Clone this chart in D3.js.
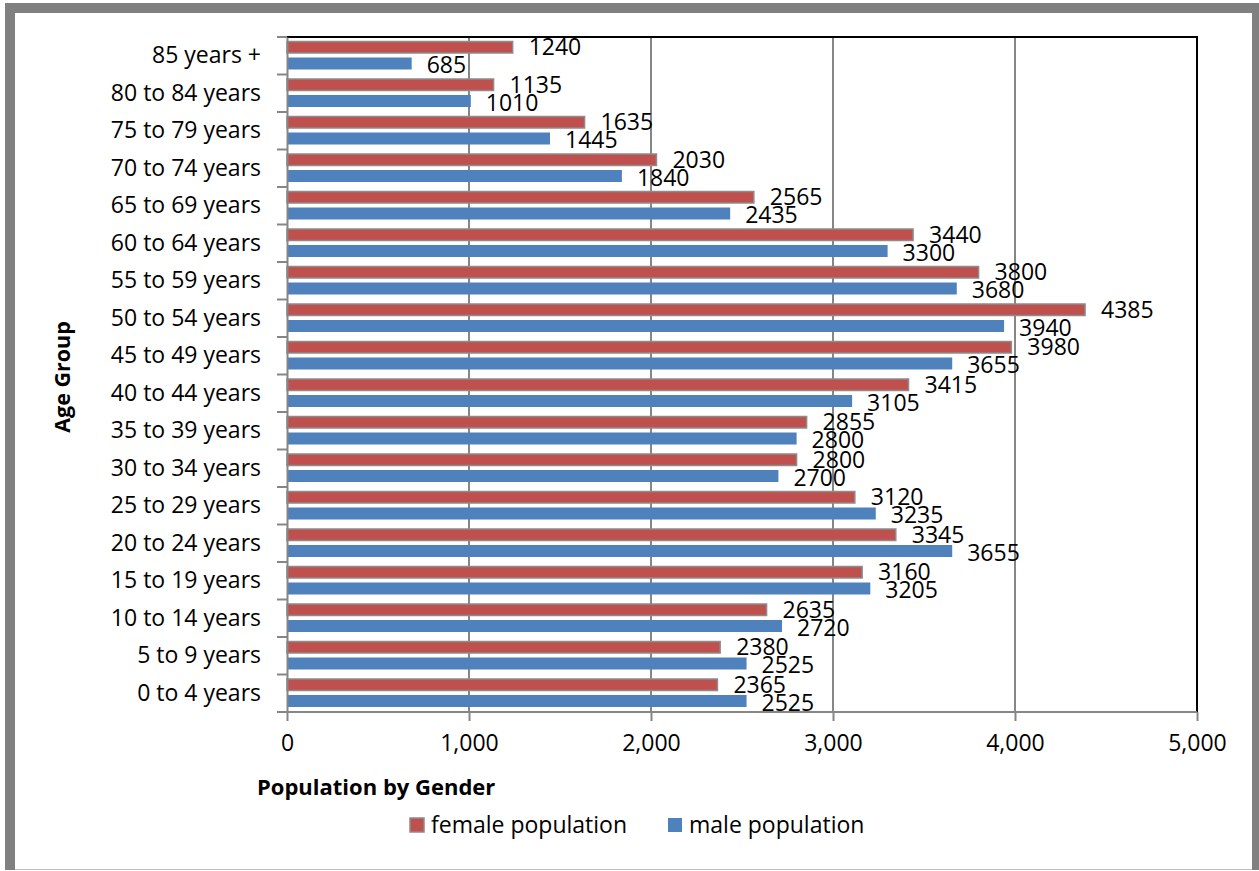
<!DOCTYPE html>
<html>
<head>
<meta charset="utf-8">
<script src="https://cdn.jsdelivr.net/npm/d3@7"></script>
<style>
  html, body { margin: 0; padding: 0; background: #fff; }
  svg { display: block; }
  text { font-family: "Open Sans", "Noto Sans", sans-serif; fill: #000; }
</style>
</head>
<body>
<script>
const categories = ["85 years +", "80 to 84 years", "75 to 79 years", "70 to 74 years", "65 to 69 years",
  "60 to 64 years", "55 to 59 years", "50 to 54 years", "45 to 49 years", "40 to 44 years",
  "35 to 39 years", "30 to 34 years", "25 to 29 years", "20 to 24 years", "15 to 19 years",
  "10 to 14 years", "5 to 9 years", "0 to 4 years"];
const femaleValues = [1240, 1135, 1635, 2030, 2565, 3440, 3800, 4385, 3980, 3415, 2855, 2800, 3120, 3345, 3160, 2635, 2380, 2365];
const maleValues = [685, 1010, 1445, 1840, 2435, 3300, 3680, 3940, 3655, 3105, 2800, 2700, 3235, 3655, 3205, 2720, 2525, 2525];
const xTicks = [0, 1000, 2000, 3000, 4000, 5000];
const seriesNames = ["female population", "male population"];
const seriesColors = ["#C0504D", "#4F81BD"];

const W = 1259, H = 871;
const FS = 23;
const svg = d3.select("body").append("svg").attr("width", W).attr("height", H);

// outer frame
svg.append("rect").attr("x", 0).attr("y", 0).attr("width", W).attr("height", H).attr("fill", "#fff");
svg.append("rect").attr("x", 5).attr("y", 3).attr("width", 1254).attr("height", 867).attr("fill", "#808080");
svg.append("rect").attr("x", 15).attr("y", 13).attr("width", 1237).attr("height", 856).attr("fill", "#fff");
svg.append("line").attr("x1", 15).attr("x2", 1252).attr("y1", 869.5).attr("y2", 869.5).attr("stroke", "#c0c0c0").attr("stroke-width", 1);

const x = d3.scaleLinear().domain([0, 5000]).range([287, 1197]);
const y = d3.scaleBand().domain(categories).range([37, 712]).padding(0);

// gridlines
svg.append("g").selectAll("line").data(xTicks.slice(1, -1)).join("line")
  .attr("x1", d => x(d)).attr("x2", d => x(d)).attr("y1", 37).attr("y2", 712)
  .attr("stroke", "#868686").attr("stroke-width", 2);

// top & right black border
svg.append("line").attr("x1", 287).attr("x2", 1198).attr("y1", 37).attr("y2", 37).attr("stroke", "#000").attr("stroke-width", 2);
svg.append("line").attr("x1", 1197).attr("x2", 1197).attr("y1", 37).attr("y2", 712).attr("stroke", "#000").attr("stroke-width", 2);

// bars
const rows = categories.map((c, i) => ({c, f: femaleValues[i], m: maleValues[i]}));
const g = svg.append("g");
g.selectAll("rect.f").data(rows).join("rect").attr("class", "f")
  .attr("x", x(0)).attr("y", d => y(d.c) + 4.5)
  .attr("width", d => x(d.f) - x(0)).attr("height", 11.5)
  .attr("fill", seriesColors[0]).attr("stroke", "#8c8c8c").attr("stroke-width", 1.5);
g.selectAll("rect.m").data(rows).join("rect").attr("class", "m")
  .attr("x", x(0)).attr("y", d => y(d.c) + 20.5)
  .attr("width", d => x(d.m) - x(0)).attr("height", 12)
  .attr("fill", seriesColors[1]);

// value labels
g.selectAll("text.fl").data(rows).join("text").attr("class", "fl")
  .attr("x", d => x(d.f) + 16).attr("y", d => y(d.c) + 10)
  .attr("dy", "0.35em").attr("font-size", FS).text(d => d.f);
g.selectAll("text.ml").data(rows).join("text").attr("class", "ml")
  .attr("x", d => x(d.m) + 15).attr("y", d => y(d.c) + 28)
  .attr("dy", "0.35em").attr("font-size", FS).text(d => d.m);

// y axis
const yAxis = d3.axisLeft(y).tickSize(0).tickPadding(26);
const ya = svg.append("g").attr("transform", "translate(287,0)").call(yAxis);
ya.select(".domain").attr("stroke", "#868686").attr("stroke-width", 2);
ya.selectAll("text").attr("font-size", FS).attr("font-family", "Open Sans");
// category boundary ticks
svg.append("g").selectAll("line").data(categories.concat(["_end"])).join("line")
  .attr("x1", 277).attr("x2", 287)
  .attr("y1", (d, i) => i < categories.length ? y(d) : y.range()[1])
  .attr("y2", (d, i) => i < categories.length ? y(d) : y.range()[1])
  .attr("stroke", "#868686").attr("stroke-width", 2);

// x axis
const xAxis = d3.axisBottom(x).tickValues(xTicks).tickSize(9).tickPadding(14).tickFormat(d3.format(","));
const xa = svg.append("g").attr("transform", "translate(0,712)").call(xAxis);
xa.select(".domain").attr("stroke", "#868686").attr("stroke-width", 2).attr("d", "M277,0H1197");
xa.selectAll(".tick line").attr("stroke", "#868686").attr("stroke-width", 2);
xa.selectAll("text").attr("font-size", FS).attr("font-family", "Open Sans");

// axis titles
svg.append("text").attr("x", 257).attr("y", 787).attr("dy", "0.35em")
  .attr("font-size", 22).attr("font-weight", "bold").text("Population by Gender");
svg.append("text").attr("transform", "translate(62,377) rotate(-90)")
  .attr("text-anchor", "middle").attr("dy", "0.35em")
  .attr("font-size", 21.5).attr("font-weight", "bold").text("Age Group");

// legend
const legend = svg.append("g");
const legX = [410, 668];
seriesNames.forEach((n, i) => {
  legend.append("rect").attr("x", legX[i]).attr("y", 818).attr("width", 14).attr("height", 14)
    .attr("fill", seriesColors[i]).attr("stroke", i === 0 ? "#8c8c8c" : "none").attr("stroke-width", 1.5);
  legend.append("text").attr("x", legX[i] + 21).attr("y", 825).attr("dy", "0.35em")
    .attr("font-size", FS).text(n);
});
</script>
</body>
</html>
